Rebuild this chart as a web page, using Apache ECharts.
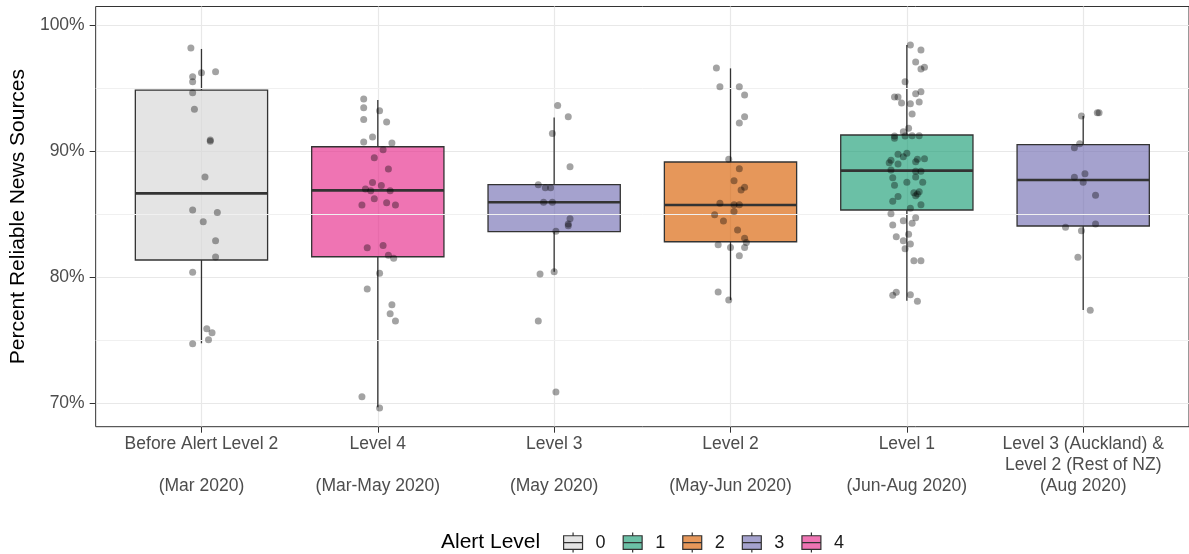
<!DOCTYPE html>
<html>
<head>
<meta charset="utf-8">
<script src="https://cdn.jsdelivr.net/npm/echarts@6/dist/echarts.min.js"></script>
<style>
  html, body { margin: 0; padding: 0; background: #fff; }
  #chart { width: 1189px; height: 554px; }
</style>
</head>
<body>
<div id="chart"></div>
<script>
const chartDom = document.getElementById('chart');
const myChart = echarts.init(chartDom);

// categories on the x axis
const categories = [
    'Before Alert Level 2\n\n(Mar 2020)',
    'Level 4\n\n(Mar-May 2020)',
    'Level 3\n\n(May 2020)',
    'Level 2\n\n(May-Jun 2020)',
    'Level 1\n\n(Jun-Aug 2020)',
    'Level 3 (Auckland) &\nLevel 2 (Rest of NZ)\n(Aug 2020)'
];
const alertLevels = ['0', '1', '2', '3', '4'];
const categoryLevel = [0, 4, 3, 2, 1, 3];
const levelColors = [
    'rgba(217, 217, 217, 0.7)',
    'rgba(27, 158, 119, 0.65)',
    'rgba(217, 95, 2, 0.65)',
    'rgba(117, 112, 179, 0.65)',
    'rgba(231, 41, 138, 0.65)'
];

const yTicks = [70, 80, 90, 100];
const yMinorTicks = [75, 85, 95];

// box stats per category: [lower whisker, q1, median, q3, upper whisker]
const boxStats = [
    [74.74, 81.35, 86.64, 94.84, 98.10],
    [69.66, 81.61, 86.88, 90.34, 94.05],
    [80.42, 83.60, 85.93, 87.33, 92.67],
    [78.17, 82.80, 85.71, 89.13, 96.56],
    [78.12, 85.32, 88.44, 91.27, 98.41],
    [77.38, 84.05, 87.70, 90.50, 92.78]
];

// jittered points: [horizontal jitter (category units), percent]
const pointsBefore = [
    [-0.06, 98.17], [0.00, 96.21], [0.08, 96.29], [-0.05, 95.90], [-0.05, 95.50],
    [-0.05, 94.63], [-0.04, 93.31], [0.05, 90.87], [0.05, 90.77], [0.02, 87.94],
    [-0.05, 85.32], [0.09, 85.13], [0.01, 84.39], [0.08, 82.88], [0.08, 81.59],
    [-0.05, 80.37], [0.03, 75.90], [0.06, 75.58], [0.04, 75.03], [-0.05, 74.71]
];
const pointsLevel4 = [
    [-0.08, 94.13], [-0.08, 93.44], [0.01, 93.20], [-0.08, 92.51], [0.05, 92.30],
    [-0.03, 91.11], [-0.08, 90.71], [0.08, 90.63], [0.03, 90.11], [-0.02, 89.47],
    [0.06, 88.57], [-0.03, 87.51], [0.02, 87.27], [-0.07, 86.98], [-0.04, 86.85],
    [0.07, 86.85], [-0.02, 86.22], [0.05, 85.90], [-0.09, 85.71], [0.10, 85.71],
    [0.03, 82.51], [-0.06, 82.33], [0.06, 81.72], [0.09, 81.48], [0.01, 80.29],
    [-0.06, 79.05], [0.08, 77.80], [0.07, 77.09], [0.10, 76.51], [-0.09, 70.50],
    [0.01, 69.60]
];
const pointsLevel3 = [
    [0.02, 93.62], [0.08, 92.72], [-0.01, 91.40], [0.09, 88.76], [-0.09, 87.33],
    [-0.05, 87.09], [-0.02, 87.09], [-0.06, 85.93], [-0.01, 85.93], [0.09, 84.63],
    [0.08, 84.21], [0.08, 84.07], [0.01, 83.63], [0.00, 80.42], [-0.08, 80.24],
    [-0.09, 76.51], [0.01, 70.87]
];
const pointsLevel2 = [
    [-0.08, 96.59], [-0.06, 95.11], [0.05, 95.11], [0.08, 94.44], [0.08, 92.72],
    [0.05, 92.22], [-0.01, 89.34], [0.05, 88.60], [0.02, 87.64], [0.08, 87.12],
    [0.06, 86.90], [-0.06, 85.85], [0.02, 85.74], [0.05, 85.74], [0.02, 85.19],
    [-0.09, 84.94], [-0.04, 84.44], [0.04, 83.73], [0.08, 83.07], [0.09, 82.73],
    [-0.07, 82.57], [0.00, 82.35], [0.08, 82.35], [0.05, 81.69], [-0.07, 78.81],
    [-0.01, 78.17]
];
const pointsLevel1 = [
    [0.02, 98.41], [0.08, 98.02], [0.05, 97.06], [0.08, 96.51], [0.10, 96.64],
    [-0.01, 95.50], [0.05, 94.55], [0.08, 94.71], [-0.07, 94.29], [-0.05, 94.29],
    [-0.03, 93.81], [0.02, 93.76], [0.07, 93.89], [0.03, 92.94], [0.01, 91.80],
    [-0.02, 91.53], [-0.07, 91.19], [-0.07, 91.01], [-0.01, 91.19], [0.03, 91.22],
    [0.07, 91.22], [-0.05, 89.74], [0.00, 89.82], [-0.02, 89.55], [-0.09, 89.26],
    [-0.10, 89.07], [-0.05, 88.97], [0.06, 89.34], [0.10, 89.39], [0.05, 89.15],
    [-0.09, 88.49], [0.05, 88.39], [0.08, 88.39], [-0.08, 87.88], [0.05, 87.94],
    [0.00, 87.52], [-0.07, 87.28], [0.09, 87.52], [0.04, 86.69], [0.06, 86.59],
    [0.05, 86.45], [0.07, 86.77], [-0.05, 86.40], [-0.08, 86.01], [0.08, 85.74],
    [0.02, 85.45], [-0.09, 85.02], [-0.08, 84.13], [-0.02, 84.47], [0.03, 84.26],
    [0.05, 84.71], [0.01, 83.39], [-0.06, 83.20], [-0.02, 82.88], [0.02, 82.62],
    [-0.01, 82.25], [0.04, 81.30], [0.08, 81.30], [-0.08, 78.55], [-0.06, 78.79],
    [0.02, 78.60], [0.06, 78.07]
];
const pointsAuckland = [
    [-0.01, 92.78], [0.08, 93.04], [0.09, 93.04], [-0.02, 90.58], [-0.05, 90.26],
    [0.01, 88.20], [-0.05, 87.91], [0.00, 87.52], [0.07, 86.48], [-0.10, 83.94],
    [0.07, 84.21], [-0.01, 83.67], [-0.03, 81.56], [0.04, 77.36]
];
const categoryPoints = [pointsBefore, pointsLevel4, pointsLevel3, pointsLevel2, pointsLevel1, pointsAuckland];

const boxWidth = 0.75;
const catPositions = categories.map((c, i) => i + 1);

function renderBox(params, api) {
    const x = api.value(0);
    const lo = api.coord([x, api.value(1)]);
    const q1 = api.coord([x, api.value(2)]);
    const med = api.coord([x, api.value(3)]);
    const q3 = api.coord([x, api.value(4)]);
    const hi = api.coord([x, api.value(5)]);
    const half = api.size([boxWidth, 0])[0] / 2;
    const edge = {stroke: '#333333', lineWidth: 1.3};
    return {
        type: 'group',
        children: [
            {type: 'line', shape: {x1: lo[0], y1: lo[1], x2: q1[0], y2: q1[1]}, style: edge},
            {type: 'line', shape: {x1: q3[0], y1: q3[1], x2: hi[0], y2: hi[1]}, style: edge},
            {
                type: 'rect',
                shape: {x: q3[0] - half, y: q3[1], width: half * 2, height: q1[1] - q3[1]},
                style: {fill: api.visual('color'), stroke: '#333333', lineWidth: 1.3}
            },
            {
                type: 'line',
                shape: {x1: med[0] - half, y1: med[1], x2: med[0] + half, y2: med[1]},
                style: {stroke: '#333333', lineWidth: 2.6}
            }
        ]
    };
}

const boxSeries = alertLevels.map((lvl, li) => ({
    name: lvl,
    type: 'custom',
    renderItem: renderBox,
    encode: {x: 0, y: [1, 2, 3, 4, 5]},
    itemStyle: {color: levelColors[li], borderColor: '#333333', borderWidth: 1.2},
    z: 2,
    data: boxStats
        .map((s, ci) => ({ci: ci, s: s}))
        .filter(d => categoryLevel[d.ci] === li)
        .map(d => [catPositions[d.ci]].concat(d.s))
}));

const pointData = [];
categoryPoints.forEach((pts, ci) => {
    pts.forEach(p => pointData.push([catPositions[ci] + p[0], p[1]]));
});

const legendIcon = 'path://M0,3H18V16H0ZM0,9.5H18M9,0V3M9,16V19';

const option = {
    animation: false,
    backgroundColor: '#ffffff',
    textStyle: {fontFamily: 'Liberation Sans, Arial, sans-serif'},
    grid: {
        left: 94,
        top: 6.5,
        right: -2,
        bottom: 127.3,
        show: true,
        borderColor: '#333333',
        borderWidth: 1,
        backgroundColor: 'transparent'
    },
    title: {
        text: 'Alert Level',
        left: 441,
        top: 532,
        padding: 0,
        textStyle: {fontSize: 21, fontWeight: 'normal', color: '#000000', fontFamily: 'Liberation Sans, Arial, sans-serif'}
    },
    legend: {
        left: 563,
        top: 532,
        padding: 0,
        itemWidth: 19,
        itemHeight: 20,
        itemGap: 17,
        selectedMode: false,
        textStyle: {fontSize: 18, color: '#1a1a1a', padding: [2, 0, 0, 8]},
        data: alertLevels.map((lvl, li) => ({
            name: lvl,
            icon: legendIcon,
            itemStyle: {color: levelColors[li], borderColor: '#333333', borderWidth: 1.2}
        }))
    },
    xAxis: {
        type: 'value',
        min: 0.4,
        max: 6.6,
        axisLine: {show: false},
        axisTick: {show: true, length: 6, customValues: catPositions, lineStyle: {color: '#333333'}},
        axisLabel: {
            customValues: catPositions,
            margin: 7,
            fontSize: 17.5,
            lineHeight: 21,
            color: '#4d4d4d',
            formatter: v => categories[Math.round(v) - 1] || ''
        },
        splitLine: {show: true, lineStyle: {color: '#e8e8e8', width: 1.2}}
    },
    yAxis: {
        type: 'value',
        min: 68.12,
        max: 101.47,
        name: 'Percent Reliable News Sources',
        nameLocation: 'middle',
        nameGap: 64,
        nameTextStyle: {fontSize: 21, color: '#000000'},
        axisLine: {show: false},
        axisTick: {show: true, length: 6, customValues: yTicks, lineStyle: {color: '#333333'}},
        axisLabel: {
            customValues: yTicks,
            margin: 11,
            fontSize: 17.5,
            color: '#4d4d4d',
            formatter: v => v + '%'
        },
        splitLine: {show: true, lineStyle: {color: '#e8e8e8', width: 1.2}}
    },
    series: [
        {
            name: 'minor',
            type: 'line',
            data: [],
            z: 1,
            silent: true,
            markLine: {
                silent: true,
                symbol: 'none',
                label: {show: false},
                lineStyle: {color: '#f0f0f0', width: 1, type: 'solid'},
                data: yMinorTicks.map(v => ({yAxis: v}))
            }
        },
        ...boxSeries,
        {
            name: 'points',
            type: 'scatter',
            symbol: 'circle',
            symbolSize: 7,
            z: 5,
            itemStyle: {color: 'rgba(0, 0, 0, 0.45)'},
            data: pointData
        }
    ]
};

myChart.setOption(option);
</script>
</body>
</html>
